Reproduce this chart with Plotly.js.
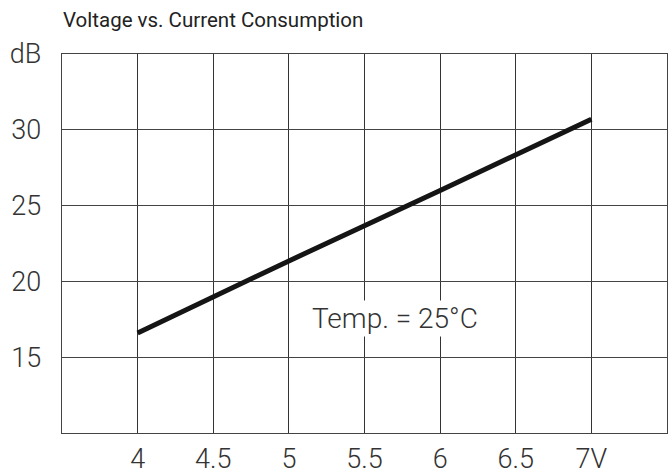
<!DOCTYPE html>
<html>
<head>
<meta charset="utf-8">
<script src="https://cdn.plot.ly/plotly-3.0.1.min.js"></script>
<style>html,body{margin:0;padding:0;background:#fff;}#chart{width:669px;height:475px;}</style>
</head>
<body>
<div id="chart"></div>
<script>
const voltage = [4, 5, 6, 7];
const gainDb = [16.6, 21.35, 26.0, 30.7];
const xTickVals = [4, 4.5, 5, 5.5, 6, 6.5, 7];
const xTickText = ["4", "4.5", "5", "5.5", "6", "6.5", "7V"];
const yTickVals = [15, 20, 25, 30, 35];
const yTickText = ["15", "20", "25", "30", "dB"];
const chartTitle = "Voltage vs. Current Consumption";
const noteText = "Temp.&nbsp;=&nbsp;25°C";

const tickFont = {family: "Roboto, 'DejaVu Sans', sans-serif", size: 27, color: "#333", weight: 300};
const noteFont = {family: "Roboto, 'DejaVu Sans', sans-serif", size: 28, color: "#333", weight: 300};

Plotly.newPlot("chart", [{
  x: voltage, y: gainDb, type: "scatter", mode: "lines",
  line: {color: "#151515", width: 5}, hoverinfo: "skip"
}], {
  width: 669, height: 475,
  margin: {l: 62, r: 2, t: 54, b: 42},
  paper_bgcolor: "#fff", plot_bgcolor: "#fff",
  showlegend: false,
  title: {text: chartTitle, x: 0, xref: "paper", xanchor: "left", y: 0.958, yref: "container", yanchor: "middle",
          font: {family: "Roboto, sans-serif", size: 20.5, color: "#222"}, pad: {l: 1}},
  xaxis: {range: [3.5, 7.5], tickvals: xTickVals, ticktext: xTickText, showgrid: true, gridcolor: "#333", gridwidth: 1,
          zeroline: false, showline: true, mirror: true, linecolor: "#444", linewidth: 1.3, ticks: "", ticklabelstandoff: 1, tickfont: tickFont, fixedrange: true},
  yaxis: {range: [10, 35], tickvals: yTickVals, ticktext: yTickText, showgrid: true, gridcolor: "#444", gridwidth: 1,
          zeroline: false, showline: true, mirror: true, linecolor: "#444", linewidth: 1.3, ticks: "", ticklabelstandoff: 14, tickfont: tickFont, fixedrange: true},
  annotations: [{x: 5.7, y: 17.55, xref: "x", yref: "y", text: noteText, showarrow: false, bgcolor: "#fff",
                 font: noteFont, xanchor: "center", yanchor: "middle"}]
}, {displayModeBar: false, staticPlot: true});
</script>
</body>
</html>
